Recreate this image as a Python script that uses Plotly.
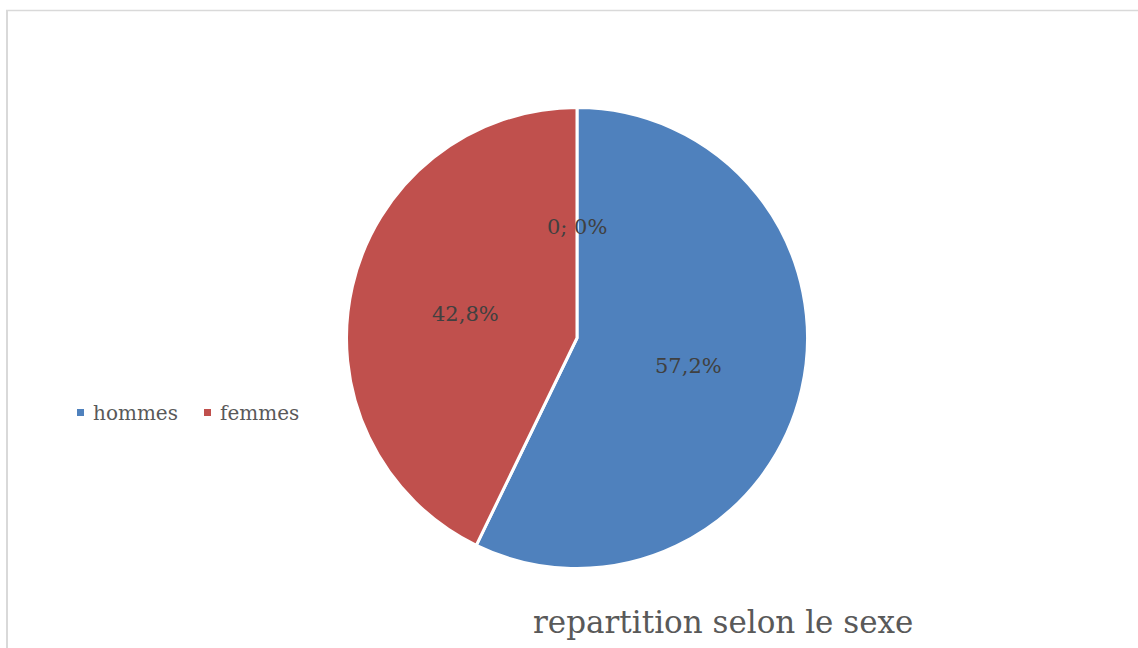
import math
import plotly.graph_objects as go

categories = ["hommes", "femmes"]
values = [57.2, 42.8]
colors = ["#4F81BD", "#C0504D"]
zero_label = "0; 0%"
title_text = "repartition selon le sexe"

W, H = 1138, 648
cx, cy, R = 577, 338, 229
FONT = "DejaVu Serif"
TXT = "#404040"

fig = go.Figure()
fig.add_trace(go.Pie(
    labels=categories, values=values, sort=False, direction="clockwise", rotation=0,
    marker=dict(colors=colors, line=dict(color="white", width=3)),
    textinfo="none", hoverinfo="label+percent", showlegend=False,
    domain=dict(x=[(cx - R - 1.5) / W, (cx + R + 1.5) / W],
                y=[(H - cy - R - 1.5) / H, (H - cy + R + 1.5) / H]),
))

annotations = []
total = sum(values)
start = 0.0
for v in values:
    mid = start + v / total * 360 / 2
    start += v / total * 360
    a = math.radians(mid)
    px = cx + 0.5 * R * math.sin(a)
    py = cy - 0.5 * R * math.cos(a) + 2
    annotations.append(dict(x=px / W, y=1 - py / H, xref="paper", yref="paper",
                            text=f"{v:.1f}%".replace(".", ","), showarrow=False,
                            font=dict(family=FONT, size=21, color=TXT)))
# zero-valued slice label at 12 o'clock
annotations.append(dict(x=cx / W, y=1 - (cy - 0.49 * R + 1) / H, xref="paper", yref="paper",
                        text=zero_label, showarrow=False,
                        font=dict(family=FONT, size=21, color=TXT)))

# manual legend
shapes = []
leg_x = [77, 204]
for i, (c, col) in enumerate(zip(categories, colors)):
    x0 = leg_x[i]
    shapes.append(dict(type="rect", xref="paper", yref="paper",
                       x0=x0 / W, x1=(x0 + 7) / W, y0=1 - 416 / H, y1=1 - 409 / H,
                       fillcolor=col, line=dict(width=0)))
    annotations.append(dict(x=(x0 + 14) / W, y=1 - 413 / H, xref="paper", yref="paper",
                            xanchor="left", yanchor="middle", text=c, showarrow=False,
                            font=dict(family=FONT, size=20, color="#595959")))

annotations.append(dict(x=723 / W, y=1 - 642 / H, xref="paper", yref="paper",
                        text=title_text, showarrow=False,
                        font=dict(family=FONT, size=31, color="#595959")))

# chart border
shapes.append(dict(type="line", xref="paper", yref="paper", x0=7 / W, x1=7 / W,
                   y0=0, y1=1 - 10 / H, line=dict(color="#D9D9D9", width=2)))
shapes.append(dict(type="line", xref="paper", yref="paper", x0=6 / W, x1=1,
                   y0=1 - 10.5 / H, y1=1 - 10.5 / H, line=dict(color="#D9D9D9", width=1.3)))

fig.update_layout(width=W, height=H, margin=dict(l=0, r=0, t=0, b=0),
                  paper_bgcolor="white", plot_bgcolor="white",
                  annotations=annotations, shapes=shapes)
fig.write_html("out.html", config={"displayModeBar": False},
               post_script="document.body.style.margin='0';")
